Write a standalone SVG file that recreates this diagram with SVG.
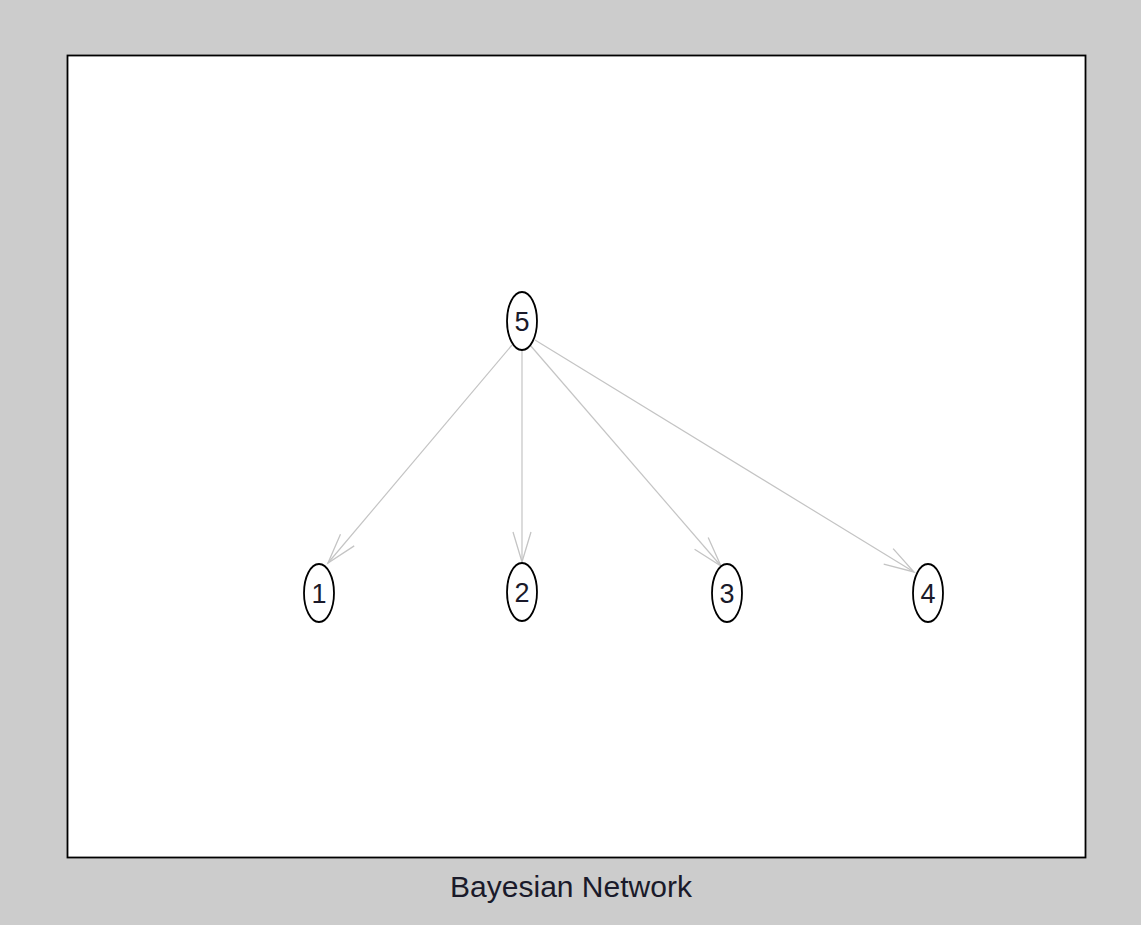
<svg xmlns="http://www.w3.org/2000/svg" width="1141" height="925" viewBox="0 0 1141 925">
  <style>
    .node ellipse { fill: #ffffff; stroke: #000000; stroke-width: 1.8; }
    .node text { font-family: "Liberation Sans", Arial, sans-serif; font-size: 27px; fill: #1a1a2a; text-anchor: middle; }
    .edge { stroke: #c4c4c4; stroke-width: 1.2; fill: none; marker-end: url(#chevron); }
    .title { font-family: "Liberation Sans", Arial, sans-serif; font-size: 30px; fill: #1a1a2a; text-anchor: middle; }
  </style>
  <defs>
    <!-- open V arrowhead, tip at the path end -->
    <marker id="chevron" markerUnits="userSpaceOnUse" markerWidth="34" markerHeight="22" refX="31" refY="10" orient="auto" overflow="visible">
      <path d="M1,1 L31,10 L1,19" fill="none" stroke="#c4c4c4" stroke-width="1.3"/>
    </marker>
  </defs>

  <!-- figure background and axes frame -->
  <rect x="0" y="0" width="1141" height="925" fill="#cccccc"/>
  <rect x="67.5" y="55.5" width="1018" height="802" fill="#ffffff" stroke="#000000" stroke-width="1.8"/>

  <!-- connectors -->
  <g id="edges">
    <line class="edge" x1="512" y1="345" x2="328" y2="563"/>
    <line class="edge" x1="522" y1="351" x2="522" y2="562"/>
    <line class="edge" x1="530" y1="345" x2="721" y2="566"/>
    <line class="edge" x1="535" y1="340" x2="914" y2="572"/>
  </g>

  <!-- nodes -->
  <g id="node5" class="node">
    <ellipse cx="522" cy="321" rx="15" ry="29"/>
    <text x="522" y="331">5</text>
  </g>
  <g id="node1" class="node">
    <ellipse cx="319" cy="593" rx="15" ry="29"/>
    <text x="319" y="603">1</text>
  </g>
  <g id="node2" class="node">
    <ellipse cx="522" cy="592" rx="15" ry="29"/>
    <text x="522" y="602">2</text>
  </g>
  <g id="node3" class="node">
    <ellipse cx="727" cy="593" rx="15" ry="29"/>
    <text x="727" y="603">3</text>
  </g>
  <g id="node4" class="node">
    <ellipse cx="928" cy="593" rx="15" ry="29"/>
    <text x="928" y="603">4</text>
  </g>

  <text class="title" x="571" y="897">Bayesian Network</text>
</svg>
